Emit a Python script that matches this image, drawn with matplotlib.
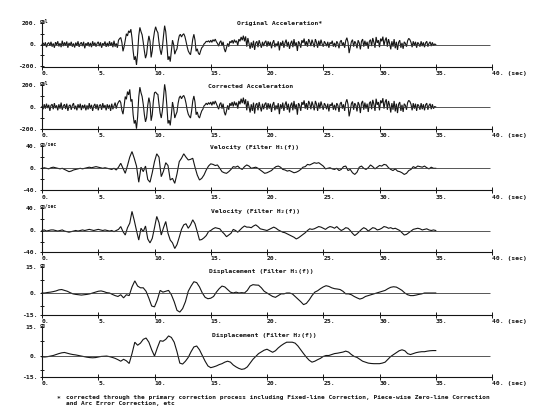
"""Strong-motion record: original/corrected acceleration, velocity, displacement."""

import matplotlib

matplotlib.use("Agg")  # headless backend
import matplotlib.pyplot as plt  # noqa: E402
import numpy as np  # noqa: E402

W, H = 540, 420
FONT = ["DejaVu Sans Mono", "DejaVu Sans"]
plt.rcParams["font.family"] = FONT
plt.rcParams["font.weight"] = "bold"

# ---- data (sample step in seconds) ----
ACC_DT = 0.1
acc_original = [
    0, 15, -10, 20, -25, 8, 18, -12, 25, -20,
    10, -30, 22, -5, 30, -18, 12, -25, 35, -15,
    20, -10, 28, -30, 15, -8, 25, -20, 10, -28,
    18, -12, 30, -22, 8, 20, -15, 25, -35, 12,
    -8, 22, -18, 15, -25, 30, -10, 18, -20, 10,
    25, -15, 20, -30, 12, -5, 28, -22, 15, -18,
    30, -12, 20, -25, 35, -20, 10, -30, 40, 55,
    65, 20, -63, -20, 40, 100, 80, 127, 110, 142,
    60, -60, -143, -110, -190, -80, 80, 159, 120, 90,
    20, -60, -127, -90, 10, 80, 30, -120, -60, 50,
    120, 165, 130, 110, 20, -50, -95, -30, 80, 175,
    120, 0, -143, -110, -159, -60, 40, 0, -90, -60,
    -40, 30, 80, 95, 70, 90, 100, 75, 30, -20,
    -60, -80, -95, -30, 50, 95, 40, -63, -40, -80,
    -95, -60, -30, -20, 5, 15, 30, 25, 35, 20,
    40, 20, 45, 30, 50, 25, 10, -15, 20, 35,
    -10, 25, -40, -70, -30, 10, -20, 30, 15, 40,
    10, 45, 20, 35, -10, 50, 30, 70, 40, 82,
    30, 75, -20, 60, 10, -40, 20, -30, 35, -50,
    15, 30, -25, 40, 5, -30, 25, -15, 20, 35,
    -20, 30, -10, 25, -35, 15, 40, -25, 10, -15,
    30, -55, 20, -10, 35, -30, 15, 45, -20, 25,
    -40, 10, 35, -25, 50, -15, 20, -60, 30, 10,
    -30, 40, 15, 55, -10, 30, -20, 50, 25, -15,
    45, 10, -25, 50, 20, -30, 35, -10, 45, 5,
    -20, 30, 10, -15, 25, -30, 20, 5, 35, -20,
    15, -25, 30, 10, -35, 25, 40, -10, 20, -30,
    35, 63, 20, -80, -30, 25, 45, -20, 30, 10,
    -35, 40, 15, -45, 30, 50, -20, 35, -10, 25,
    -40, 30, 45, -15, 60, 20, -30, 70, 15, 40,
    -25, 55, 30, 73, -10, 40, 65, -20, 50, 10,
    -45, 30, -20, 50, -35, 25, -50, 20, 40, -30,
    15, -40, 25, 10, -20, 35, 57, 45, 20, -25,
    30, -10, 25, -30, 20, 5, -20, 30, -15, 20,
    -25, 15, 30, -20, 10, 25, -15, 20, -10, 5,
    0,
]
acc_corrected = [
    5, -20, 25, -15, 30, -10, 20, -35, 15, 25,
    -20, 35, -10, 15, -30, 25, -15, 40, -25, 10,
    25, -18, 30, -35, 10, 20, -25, 15, 35, -20,
    12, -30, 25, -10, 30, -28, 18, -12, 22, -30,
    15, -22, 35, -15, 20, -35, 10, 28, -18, 25,
    -30, 15, 22, -25, 35, -10, 18, -30, 25, -15,
    20, -35, 30, -20, 10, 40, -15, 25, 45, 60,
    40, -30, -65, 10, 95, 70, 140, 110, 160, 50,
    70, -70, -150, -120, -197, -90, 90, 180, 130, 95,
    25, -70, -135, -95, 15, 85, 35, -125, -70, 55,
    130, 136, 120, 115, 25, -55, -100, -35, 90, 206,
    140, 10, -150, -120, -167, -70, 45, -10, -100, -70,
    -45, 35, 85, 100, 75, 95, 105, 80, 35, -25,
    -65, -85, -100, -35, 55, 100, 45, -70, -45, -85,
    -100, -65, -35, -20, 10, 20, 35, 20, 40, 25,
    45, 15, 50, 25, 55, 30, 5, -20, 25, 40,
    -15, 30, -45, -75, -35, 15, -25, 35, 10, 45,
    5, 50, 15, 40, -15, 55, 25, 75, 35, 85,
    25, 70, -30, 55, 5, -50, 25, -35, 40, -60,
    20, 35, -30, 45, 0, -40, 30, -20, 25, 40,
    -25, 35, -15, 30, -45, 20, 45, -30, 15, -20,
    35, -65, 25, -15, 40, -35, 20, 50, -25, 30,
    -50, 15, 40, -30, 55, -20, 25, -70, 35, 15,
    -35, 45, 20, 60, -15, 35, -25, 55, 30, -20,
    50, 15, -30, 55, 25, -35, 40, -15, 50, 10,
    -25, 35, 15, -20, 30, -40, 25, 10, 40, -25,
    20, -30, 35, 15, -45, 30, 45, -15, 25, -35,
    40, 70, 25, -85, -35, 30, 50, -25, 35, 15,
    -40, 45, 20, -55, 35, 55, -25, 40, -15, 30,
    -45, 35, 50, -20, 65, 25, -35, 75, 20, 45,
    -30, 60, 35, 80, -15, 45, 70, -25, 55, 15,
    -50, 35, -25, 55, -40, 30, -55, 25, 45, -35,
    20, -45, 30, 15, -25, 40, 60, 50, 25, -30,
    35, -15, 30, -35, 25, 10, -25, 35, -20, 25,
    -30, 20, 35, -25, 15, 30, -20, 25, -15, 5,
    0,
]

VEL_DT = 0.2
vel_h1 = [
    0, 1, 0, -1, 1, 2, 1, 0, -1, 0,
    -2, -4, -6, -5, -3, -2, -1, 0, -1, 0,
    1, 2, 1, 2, 3, 2, 1, 0, 1, 0,
    -1, -2, 0, -3, 2, 9, 0, -9, 5, 20,
    30, 18, 4, -25, 2, -6, 4, -20, -25, -8,
    12, 26, 20, -15, -5, 10, 5, -21, -18, -27,
    -10, 12, 18, 26, 20, 15, 16, 18, 2, -12,
    -21, -18, -12, -3, 4, 8, 7, 5, 6, 0,
    -6, -8, -9, -6, -2, 3, 2, 4, 0, -2,
    3, 6, 4, 0, 1, 2, 0, -3, -6, -9,
    -8, -6, -4, 0, 3, 4, 2, -2, -3, -5,
    -4, -6, -8, -7, -5, -2, 2, 3, 7, 6,
    8, 10, 9, 10, 7, 4, -1, 0, 1, -1,
    -2, 0, -4, -2, 3, 4, -4, -2, -8, -11,
    -7, 2, 4, 0, -2, 1, 6, 3, -1, 2,
    5, 4, 7, 6, 1, -2, -4, -1, -5, -6,
    -8, -11, -9, -4, -2, 3, 1, 4, 3, 2,
    4, 1, -1, 2, 0, 0,
]
vel_h2 = [
    0, 1, -1, 0, 1, 1, 0, -1, 0, 1,
    -1, -2, -3, -2, -1, 0, -1, 0, 1, 0,
    1, 2, 1, 0, 1, 2, 1, 0, 1, 0,
    -1, 0, -2, 0, 2, 7, -2, -8, 5, 13,
    34, 18, 0, -17, 4, -2, 8, -15, -22, -14,
    5, 25, 14, -8, 5, 16, -5, -17, -22, -32,
    -25, -12, 2, 10, 12, 4, 10, 19, 12, -2,
    -17, -16, -13, -9, -2, 0, 3, 5, 4, 3,
    -2, -6, -11, -8, -5, 2, 0, -3, 1, 5,
    8, 6, 6, 5, 8, 10, 7, 3, 2, 1,
    0, 2, 4, 6, 4, 1, -1, -3, -4, -6,
    -8, -10, -12, -15, -13, -10, -7, -4, 0, 3,
    2, 3, 5, 7, 6, 4, 2, 5, 7, 6,
    4, 7, 3, 0, 2, 5, 4, 0, -5, -9,
    -6, -2, 2, 5, 3, -1, 2, 5, 4, 1,
    2, 4, 7, 6, 4, 5, 3, 4, 2, 0,
    -4, -8, -7, -4, -1, 2, 3, 4, 3, 1,
    2, 3, 1, 0, 1, 0,
]

DIS_DT = 0.25
dis_h1 = [
    0, 0, 0.3, 0.5, 0.8, 1.2, 1.8, 2.0, 1.5, 1.0,
    0.2, -0.5, -0.8, -1.0, -1.2, -1.0, -0.8, -0.5, 0, 0.5,
    1.0, 1.2, 0.8, 0.2, 0, -0.8, -1.5, -2.0, -1.0, -2.8,
    -1.0, -1.5, 3.5, 7.0, 4.0, 3.0, 3.0, 1.0, -3.0, -7.5,
    -8.0, -4.0, 1.5, 0.5, 1.0, 1.5, -1.0, -5.0, -10.0, -11.0,
    -9.0, -5.0, 1.0, 4.0, 6.5, 6.0, 3.5, 0, -2.5, -3.3,
    -3.0, -2.0, 0.5, 2.5, 4.0, 3.5, 2.0, 0.5, 0, 0.5,
    0, 0.2, 0, 1.5, 4.0, 4.8, 4.6, 4.5, 3.0, 1.0,
    0, -1.0, -2.0, -2.5, -1.5, -0.5, -0.5, 0, 0, -0.5,
    -2.0, -3.5, -5.0, -6.7, -6.0, -4.0, -1.5, 0.5, 1.3, 2.5,
    3.5, 4.2, 3.8, 3.0, 2.5, 2.3, 2.0, 1.0, -0.5, -0.5,
    -1.0, -2.0, -2.8, -3.5, -3.0, -2.0, -1.5, -1.0, -0.5, 0,
    0.5, 1.0, 1.5, 2.5, 3.3, 3.6, 3.4, 2.5, 1.5, 0,
    -1.0, -1.5, -1.5, -1.2, -0.8, -0.5, 0, 0, 0, 0,
    0,
]
dis_h2 = [
    -0.7, -0.8, -0.6, -0.3, 0, 0.5, 1.0, 1.4, 1.6, 1.2,
    0.8, 0.5, 0.3, 0, -0.3, -0.6, -0.9, -1.1, -1.2, -1.1,
    -0.8, -0.5, -0.4, -0.3, -0.6, -1.0, -1.5, -2.2, -3.0, -2.0,
    -2.8, -4.2, 1.0, 7.0, 5.4, 6.5, 8.5, 9.2, 7.0, 3.0,
    -0.3, 4.0, 7.8, 7.5, 8.5, 10.3, 9.5, 7.0, 2.0, -4.0,
    -4.5, -3.0, -1.0, 2.0, 4.5, 5.0, 3.0, 0, -3.0, -5.5,
    -6.4, -6.0, -5.5, -4.8, -4.3, -3.5, -3.0, -3.5, -5.0, -6.0,
    -6.8, -7.3, -7.0, -6.0, -4.0, -2.0, -0.5, 1.0, 1.9, 2.8,
    3.3, 2.5, 1.7, 2.5, 4.0, 5.2, 6.2, 7.0, 7.0, 7.0,
    6.5, 5.0, 3.0, 1.0, -0.9, -2.5, -3.5, -3.0, -2.2, -1.5,
    -0.5, 0, 0, 0.5, 1.0, 1.2, 1.5, 1.8, 2.3, 1.8,
    0.5, -0.5, -1.0, -2.0, -3.0, -3.5, -4.0, -4.2, -4.3, -4.3,
    -4.3, -4.0, -3.5, -2.0, -0.5, 0.5, 1.5, 2.5, 3.0, 2.5,
    1.0, 0.5, 1.0, 1.5, 1.8, 2.0, 2.0, 2.3, 2.5, 2.6,
    2.6,
]

x_ticks = [0, 5, 10, 15, 20, 25, 30, 35, 40]
x_labels = ["0.", "5.", "10.", "15.", "20.", "25.", "30.", "35.", "40. (sec)"]

footnote = (
    "corrected through the primary correction process including "
    "Fixed-line Correction, Piece-wise Zero-line Correction\n"
    "and Arc Error Correction, etc"
)

# (series, dt, title, unit, full scale, y labels, title px, zero/top/bottom px)
panels = [
    (acc_original, ACC_DT, "Original Acceleration*", "gal", 200,
     ["-200.", "0.", "200."], (237, 24), (44.5, 23, 67)),
    (acc_corrected, ACC_DT, "Corrected Acceleration", "gal", 200,
     ["-200.", "0.", "200."], (208, 87), (107, 85, 129)),
    (vel_h1, VEL_DT, "Velocity (Filter H\u2081(f))", "cm/sec", 40,
     ["-40.", "0.", "40."], (210, 147), (168.3, 146, 190.5)),
    (vel_h2, VEL_DT, "Velocity (Filter H\u2082(f))", "cm/sec", 40,
     ["-40.", "0.", "40."], (211, 211), (230.5, 208, 252)),
    (dis_h1, DIS_DT, "Displacement (Filter H\u2081(f))", "cm", 15,
     ["-15.", "0.", "15."], (209, 272), (293, 267, 315)),
    (dis_h2, DIS_DT, "Displacement (Filter H\u2082(f))", "cm", 15,
     ["-15.", "0.", "15."], (212, 335), (355.5, 327, 377)),
]

INK = "#151515"
FS = 4.6

fig = plt.figure(figsize=(W / 100, H / 100), dpi=100)
fig.patch.set_facecolor("white")

for series, dt, title, unit, vmax, ylabels, (tx, ty), (y0, ytop, ybot) in panels:
    scale = (y0 - ytop) / vmax  # px per data unit
    ylo = -(ybot - y0) / scale
    yhi = vmax + 4 / scale
    ax = fig.add_axes([42 / W, 1 - ybot / H, 450 / W, (ybot - ytop + 4) / H])
    ax.patch.set_alpha(0)
    ax.set_xlim(0, 40)
    ax.set_ylim(ylo, yhi)

    t = np.arange(len(series)) * dt
    ax.plot(t, series, color=INK, lw=0.8, clip_on=False, solid_joinstyle="miter")
    ax.hlines(0, 0, 39.8, color="#3a3a3a", lw=0.6)

    for side in ("top", "right"):
        ax.spines[side].set_visible(False)
    for side in ("left", "bottom"):
        ax.spines[side].set_linewidth(0.8)
        ax.spines[side].set_color(INK)
    ax.spines["left"].set_bounds(ylo, vmax)

    ax.set_xticks(x_ticks)
    ax.set_xticklabels(x_labels)
    ax.tick_params(axis="x", direction="inout", length=4, width=0.7,
                   pad=1.0, labelsize=FS, colors=INK)
    for lab in ax.get_xticklabels():
        lab.set_horizontalalignment("left")

    low_tick = max(-vmax, ylo)
    ax.set_yticks([low_tick, 0, vmax])
    ax.set_yticklabels(ylabels)
    ax.set_yticks([-vmax / 2, vmax / 2], minor=True)
    ax.tick_params(axis="y", which="both", direction="inout", length=3.5,
                   width=0.7, pad=1.5, labelsize=FS, colors=INK)

    fig.text(tx / W, 1 - ty / H, title, fontsize=FS, color=INK,
             ha="left", va="center")
    fig.text(40 / W, 1 - (ytop - 1.5) / H, unit, fontsize=3.4, color=INK,
             ha="left", va="center")

fig.text(57 / W, 1 - 398 / H, "*", fontsize=4.5, color=INK, ha="left", va="center")
fig.text(66 / W, 1 - 394.5 / H, footnote, fontsize=4.45, color=INK,
         ha="left", va="top", linespacing=1.3)

fig.savefig("out.png", dpi=100, facecolor="white")
plt.close(fig)
